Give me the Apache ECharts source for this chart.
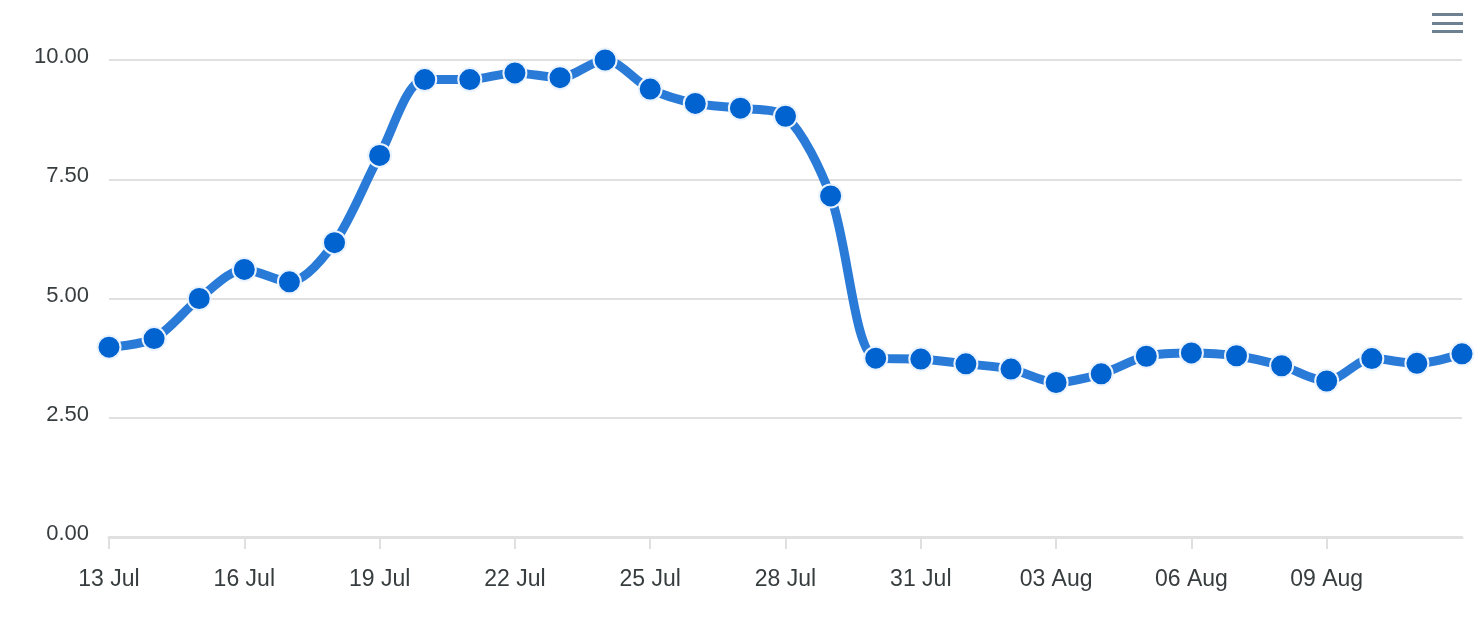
<!DOCTYPE html>
<html>
<head>
<meta charset="utf-8">
<script src="https://cdn.jsdelivr.net/npm/echarts@6/dist/echarts.min.js"></script>
<style>
html,body{margin:0;padding:0;background:#fff;}
#chart{width:1482px;height:632px;}
</style>
</head>
<body>
<div id="chart"></div>
<script>
// dates, one point per day
var days = ['13 Jul','14 Jul','15 Jul','16 Jul','17 Jul','18 Jul','19 Jul','20 Jul','21 Jul','22 Jul',
	'23 Jul','24 Jul','25 Jul','26 Jul','27 Jul','28 Jul','29 Jul','30 Jul','31 Jul','01 Aug',
	'02 Aug','03 Aug','04 Aug','05 Aug','06 Aug','07 Aug','08 Aug','09 Aug','10 Aug','11 Aug','12 Aug'];
var values = [3.98,4.16,5.00,5.61,5.35,6.17,8.00,9.59,9.59,9.73,
	9.63,10.00,9.39,9.09,8.99,8.82,7.15,3.75,3.73,3.63,
	3.52,3.24,3.42,3.79,3.86,3.80,3.59,3.27,3.74,3.64,3.84];
var yTicks = [0, 2.5, 5, 7.5, 10];

var myChart = echarts.init(document.getElementById('chart'));
var labelFont = 'Liberation Sans, Arial, sans-serif';
// every third day gets a label and a tick, the last day does not
var showDay = function(index){
	return index % 3 == 0 && index < days.length - 1;
};

myChart.setOption({
	animation: false,
	grid: {
		left: 109,
		right: 20,
		top: 60,
		bottom: 95,
		outerBoundsMode: 'none',
		containLabel: false
	},
	xAxis: {
		type: 'category',
		boundaryGap: false,
		data: days,
		axisLine: {lineStyle: {color: '#e0e0e0', width: 3}},
		axisTick: {show: true, interval: showDay, length: 12, lineStyle: {color: '#e0e0e0', width: 2}},
		axisLabel: {
			interval: showDay,
			margin: 31,
			color: '#373d3f',
			fontSize: 23,
			fontFamily: labelFont
		},
		splitLine: {show: false}
	},
	yAxis: {
		type: 'value',
		min: yTicks[0],
		max: yTicks[yTicks.length - 1],
		interval: 2.5,
		axisLine: {show: false},
		axisTick: {show: false},
		axisLabel: {
			margin: 20,
			color: '#373d3f',
			fontSize: 22,
			fontFamily: labelFont,
			verticalAlign: 'bottom',
			lineHeight: 6,
			formatter: function(v){ return v.toFixed(2); }
		},
		splitLine: {lineStyle: {color: '#e0e0e0', width: 2}}
	},
	series: [{
		type: 'line',
		data: values,
		smooth: 0.3,
		symbol: 'circle',
		symbolSize: 23,
		showAllSymbol: true,
		lineStyle: {color: '#2a7bd8', width: 9},
		itemStyle: {color: '#0063cf', borderColor: '#eaf3fd', borderWidth: 2}
	}],
	// hamburger menu icon top-right
	graphic: [
		{type: 'rect', right: 19, top: 13, shape: {width: 31, height: 3}, style: {fill: '#6e8192'}},
		{type: 'rect', right: 19, top: 22, shape: {width: 31, height: 3}, style: {fill: '#6e8192'}},
		{type: 'rect', right: 19, top: 30, shape: {width: 31, height: 3}, style: {fill: '#6e8192'}}
	]
});
</script>
</body>
</html>
